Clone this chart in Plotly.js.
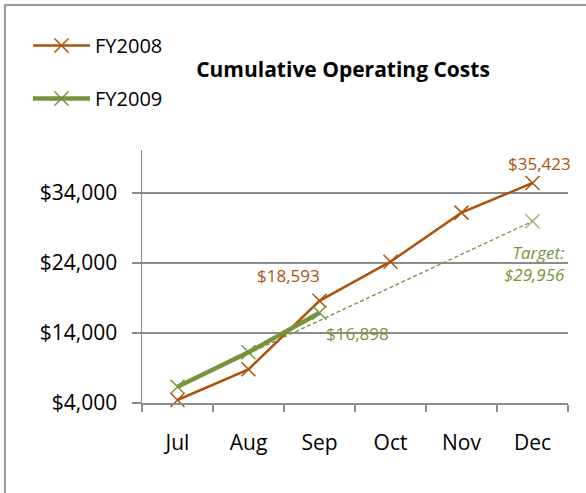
<!DOCTYPE html>
<html>
<head>
<meta charset="utf-8">
<script src="https://cdn.plot.ly/plotly-3.0.1.min.js"></script>
<style>html,body{margin:0;padding:0;background:#fff;}#chart{width:586px;height:493px;}</style>
</head>
<body>
<div id="chart"></div>
<script>
const months = ["Jul", "Aug", "Sep", "Oct", "Nov", "Dec"];
const fy2008 = [4430, 8810, 18593, 24190, 31190, 35423];
const fy2009Months = ["Jul", "Aug", "Sep"];
const fy2009 = [6330, 11240, 16898];
const targetMonths = ["Jul", "Dec"];
const targetValues = [6330, 29956];
const yTickVals = [4000, 14000, 24000, 34000];
const yTickText = ["$4,000", "$14,000", "$24,000", "$34,000"];

const brown = "#AE520F";
const green = "#77933C";
const font = "Open Sans, Noto Sans, sans-serif";

const traces = [
  {
    x: targetMonths, y: targetValues, type: "scatter", mode: "lines+markers",
    line: {color: green, width: 1.3, dash: "4px,2.5px"},
    marker: {symbol: "x-thin-open", size: [0, 14], line: {color: green, width: 1.5}},
    showlegend: false, hoverinfo: "skip", cliponaxis: false
  },
  {
    x: months, y: fy2008, type: "scatter", mode: "lines+markers", name: "FY2008",
    line: {color: brown, width: 2.5},
    marker: {symbol: "x-thin-open", size: 14, line: {color: brown, width: 1.5}},
    legendgroup: "a", cliponaxis: false
  },
  {
    x: fy2009Months, y: fy2009, type: "scatter", mode: "lines+markers", name: "FY2009",
    line: {color: green, width: 4.5},
    marker: {symbol: "x-thin-open", size: 14, line: {color: green, width: 1.5}},
    legendgroup: "b", cliponaxis: false
  }
];

const W = 426, H = 253, L = 142, T = 150;
function px(x) { return (x - L) / W; }
function py(y) { return (T + H - y) / H; }

const layout = {
  width: 586, height: 493,
  margin: {l: L, r: 586 - L - W, t: T, b: 493 - T - H, pad: 0},
  paper_bgcolor: "#fff", plot_bgcolor: "#fff",
  font: {family: font, color: "#000"},
  title: {
    text: "<b>Cumulative Operating Costs</b>",
    font: {family: font, size: 21, color: "#000"},
    xref: "container", yref: "container",
    x: 343 / 586, xanchor: "center", y: 1 - 70 / 493, yanchor: "middle"
  },
  showlegend: true,
  legend: {
    x: px(28), xanchor: "left", y: py(26), yanchor: "top",
    font: {family: font, size: 20, color: "#000"},
    traceorder: "grouped", tracegroupgap: 24, itemwidth: 57,
    bgcolor: "rgba(0,0,0,0)"
  },
  xaxis: {
    type: "category", categoryorder: "array", categoryarray: months,
    range: [-0.5, 5.5], fixedrange: true,
    showline: true, linecolor: "#8c8c8c", linewidth: 1.5,
    ticks: "outside", tickson: "boundaries", ticklen: 7, tickcolor: "#8c8c8c", tickwidth: 1.5,
    tickfont: {family: font, size: 21, color: "#000"},
    ticklabelstandoff: 20,
    showgrid: false, zeroline: false
  },
  yaxis: {
    range: [4000, 40140], fixedrange: true,
    tickvals: yTickVals, ticktext: yTickText,
    showline: true, linecolor: "#8c8c8c", linewidth: 1.5,
    ticks: "outside", ticklen: 9, tickcolor: "#8c8c8c", tickwidth: 1.5,
    tickfont: {family: font, size: 21, color: "#000"},
    ticklabelstandoff: 10,
    showgrid: true, gridcolor: "#8c8c8c", gridwidth: 1.3,
    zeroline: false
  },
  shapes: [
    {type: "path", xref: "paper", yref: "paper",
     path: "M " + px(5) + "," + py(700) + " L " + px(5) + "," + py(5) + " L " + px(800) + "," + py(5),
     line: {color: "#9a9a9a", width: 2}, layer: "below"}
  ],
  annotations: [
    {x: "Dec", y: 35423, xref: "x", yref: "y", text: "$35,423", showarrow: false,
     xshift: 7, yshift: 20, font: {family: font, size: 17, color: brown}},
    {x: "Sep", y: 18593, xref: "x", yref: "y", text: "$18,593", showarrow: false,
     xshift: -31, yshift: 25, font: {family: font, size: 17, color: brown}},
    {x: "Sep", y: 16898, xref: "x", yref: "y", text: "$16,898", showarrow: false,
     xshift: 38, yshift: -21, font: {family: font, size: 17, color: green}},
    {x: "Dec", y: 29956, xref: "x", yref: "y", text: "<i>Target:</i><br><i>$29,956</i>", showarrow: false,
     xanchor: "right", align: "right", xshift: 34, yshift: -42,
     font: {family: font, size: 17, color: green}}
  ]
};

Plotly.newPlot("chart", traces, layout, {displayModeBar: false, staticPlot: true});
</script>
</body>
</html>
